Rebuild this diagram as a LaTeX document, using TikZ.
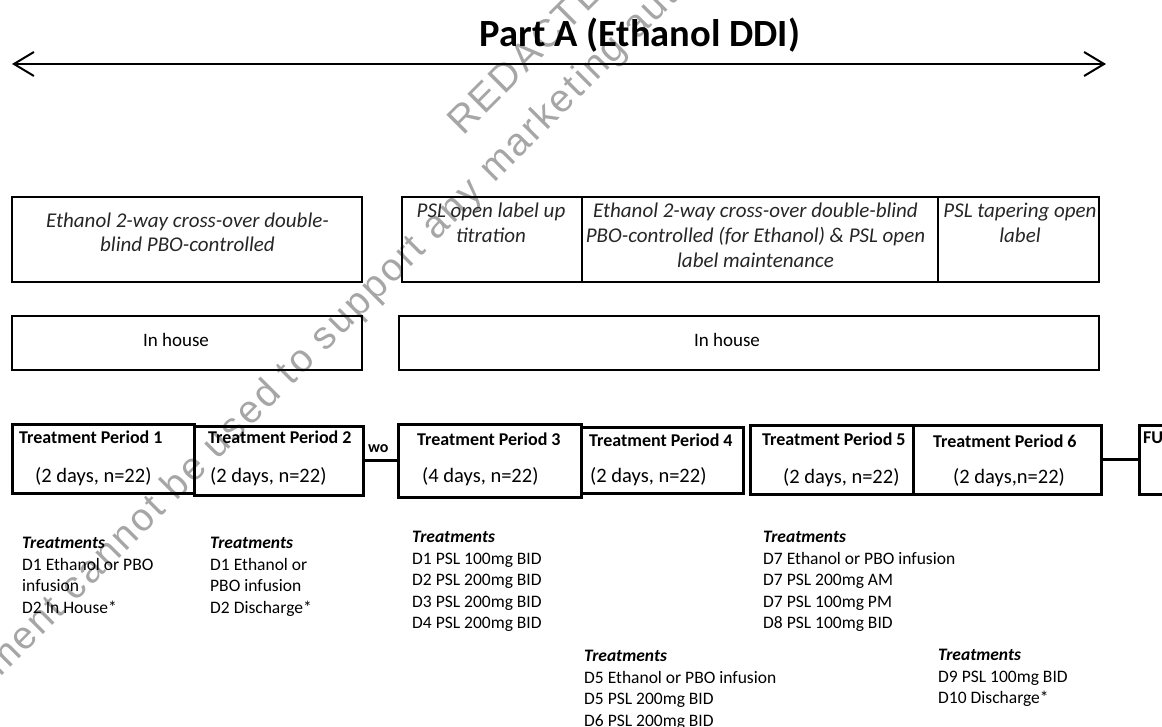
\documentclass[tikz,border=0pt]{standalone}
\usepackage{fontspec}
\setmainfont{Carlito}
\newfontfamily\wmfont[LetterSpace=6]{Liberation Sans}
\usetikzlibrary{arrows.meta}
\tikzset{
  phasebox/.style={draw, line width=2pt, inner sep=0pt},
  periodbox/.style={draw, line width=3pt, inner sep=0pt},
  phasetext/.style={anchor=base, text=black!85, font=\fontsize{21}{24.5}\selectfont\itshape, inner sep=0pt},
  housetext/.style={font=\fontsize{19}{22}\selectfont, inner sep=0pt},
  tptitle/.style={anchor=base west, font=\fontsize{18}{21}\selectfont\bfseries, inner sep=0pt},
  tpsub/.style={anchor=base west, font=\fontsize{20.5}{24}\selectfont, inner sep=0pt},
  treat/.style={anchor=north west, align=left, inner sep=0pt, font=\fontsize{17.5}{21.6}\selectfont},
  link/.style={line width=2.5pt},
  wm/.style={text=black!35, font=\fontsize{39}{46}\wmfont, inner sep=0pt, rotate=45, anchor=base west}
}
\begin{document}
\begin{tikzpicture}[x=1pt,y=-1pt]
\useasboundingbox (0,0) rectangle (1162,727);
% watermark
\node[wm] (wm1) at (463,137) {REDACTED};
\node[wm] (wm2) at (0,678) {\llap{This docu}ment cannot be used to support any marketing authorization application};
% title and span arrow
\node[font=\fontsize{38.5}{42}\selectfont\bfseries, anchor=base, inner sep=0pt] (title) at (640,47) {Part A (Ethanol DDI)};
\coordinate (aL) at (12,64);
\coordinate (aR) at (1106,64);
\draw[line width=2pt, {Straight Barb[length=20pt,width=24pt]}-{Straight Barb[length=20pt,width=24pt]}] (aL) -- (aR);
% phase boxes
\node[phasebox, minimum width=350pt, minimum height=85pt] (p1) at (187,239.5) {};
\node[phasebox, minimum width=180pt, minimum height=85pt] (p2) at (492,239.5) {};
\node[phasebox, minimum width=356pt, minimum height=85pt] (p3) at (760,239.5) {};
\node[phasebox, line width=2.6pt, minimum width=161pt, minimum height=85pt] (p4) at (1018.5,239.5) {};
\node[phasetext] (t1a) at (187.5,228) {Ethanol 2-way cross-over double-};
\node[phasetext] (t1b) at (187.5,252) {blind PBO-controlled};
\node[phasetext] (t2a) at (491,218) {PSL open label up};
\node[phasetext] (t2b) at (491,243) {titration};
\node[phasetext] (t3a) at (755.5,218) {Ethanol 2-way cross-over double-blind};
\node[phasetext] (t3b) at (755.5,243) {PBO-controlled (for Ethanol) \& PSL open};
\node[phasetext] (t3c) at (755.5,268) {label maintenance};
\node[phasetext] (t4a) at (1020,218) {PSL tapering open};
\node[phasetext] (t4b) at (1020,243) {label};
% in-house boxes
\node[phasebox, minimum width=350pt, minimum height=54pt] (h1) at (187,343) {};
\node[phasebox, minimum width=700pt, minimum height=54pt] (h2) at (749,343) {};
\node[housetext] (ht1) at (176,340) {In house};
\node[housetext] (ht2) at (727,340) {In house};
% treatment periods
\node[periodbox, minimum width=182pt, minimum height=69pt] (tp1) at (103,458.5) {};
\node[periodbox, minimum width=169pt, minimum height=69pt] (tp2) at (278.5,460.5) {};
\node[periodbox, minimum width=183pt, minimum height=73pt] (tp3) at (489.5,460.5) {};
\node[periodbox, minimum width=162pt, minimum height=66pt] (tp4) at (662,460) {};
\node[periodbox, minimum width=163pt, minimum height=69pt] (tp5) at (831.5,459.5) {};
\node[periodbox, minimum width=188pt, minimum height=69pt] (tp6) at (1007,459.5) {};
\node[periodbox, minimum width=42pt, minimum height=69pt] (fu) at (1160,459.5) {};
\node[tptitle] (tt1) at (19,443) {Treatment Period 1};
\node[tpsub] (ts1) at (35,482) {(2 days, n=22)};
\node[tptitle] (tt2) at (208,443) {Treatment Period 2};
\node[tpsub] (ts2) at (210,482) {(2 days, n=22)};
\node[tptitle] (tt3) at (417,445) {Treatment Period 3};
\node[tpsub] (ts3) at (422,482) {(4 days, n=22)};
\node[tptitle] (tt4) at (589,446) {Treatment Period 4};
\node[tpsub] (ts4) at (590,482) {(2 days, n=22)};
\node[tptitle] (tt5) at (762,445) {Treatment Period 5};
\node[tpsub] (ts5) at (783,483) {(2 days, n=22)};
\node[tptitle] (tt6) at (933,447) {Treatment Period 6};
\node[tpsub] (ts6) at (953,483) {(2 days,n=22)};
\node[tptitle] (tfu) at (1143,443) {FU};
% connectors
\draw[link] (tp2.east) -- (tp3.west);
\draw[link] (tp6.east) -- (fu.west);
\node[tptitle, font=\fontsize{16}{18}\selectfont\bfseries] (wo) at (368,452) {wo};
% treatments
\node[treat] (c1) at (22,537) {\textbf{\textit{Treatments}}\\D1 Ethanol or PBO\\infusion\\D2 In House*};
\node[treat] (c2) at (210,537) {\textbf{\textit{Treatments}}\\D1 Ethanol or\\PBO infusion\\D2 Discharge*};
\node[treat] (c3) at (412,531) {\textbf{\textit{Treatments}}\\D1 PSL 100mg BID\\D2 PSL 200mg BID\\D3 PSL 200mg BID\\D4 PSL 200mg BID};
\node[treat] (c4) at (584,650) {\textbf{\textit{Treatments}}\\D5 Ethanol or PBO infusion\\D5 PSL 200mg BID\\D6 PSL 200mg BID};
\node[treat] (c5) at (763,531) {\textbf{\textit{Treatments}}\\D7 Ethanol or PBO infusion\\D7 PSL 200mg AM\\D7 PSL 100mg PM\\D8 PSL 100mg BID};
\node[treat] (c6) at (938,649) {\textbf{\textit{Treatments}}\\D9 PSL 100mg BID\\D10 Discharge*};
\end{tikzpicture}
\end{document}
